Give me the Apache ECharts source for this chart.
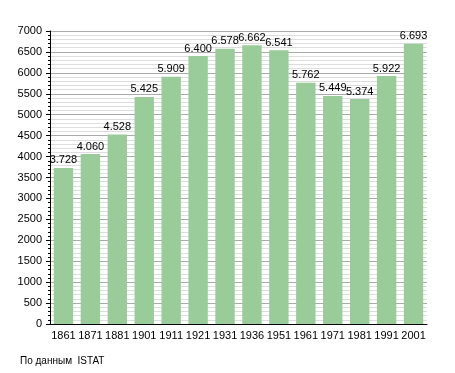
<!DOCTYPE html>
<html><head><meta charset="utf-8">
<script src="https://cdn.jsdelivr.net/npm/echarts@6/dist/echarts.min.js"></script>
<style>html,body{margin:0;padding:0;background:#fff}#c{width:455px;height:373px}</style>
</head><body><div id="c"></div>
<script>
const years = ["1861","1871","1881","1901","1911","1921","1931","1936","1951","1961","1971","1981","1991","2001"];
const population = [3728,4060,4528,5425,5909,6400,6578,6662,6541,5762,5449,5374,5922,6693];
const yMin = 0, yMax = 7000, yStep = 500;
const sourceText = "По данным  ISTAT";

const chart = echarts.init(document.getElementById('c'), null, {renderer:'canvas'});
const font = "'Liberation Sans', Arial, sans-serif";
chart.setOption({
  animation:false,
  backgroundColor:'#fff',
  grid:{left:50,right:28,top:31,bottom:49},
  xAxis:{type:'category',data:years,
    axisLine:{lineStyle:{color:'#000',width:1}},
    axisTick:{show:false},
    axisLabel:{color:'#000',fontSize:11,fontFamily:font,margin:6,interval:0}},
  yAxis:{type:'value',min:yMin,max:yMax,interval:yStep,
    axisLine:{show:true,lineStyle:{color:'#000',width:1}},
    axisTick:{show:true,length:4,lineStyle:{color:'#000'}},
    minorTick:{show:true,splitNumber:5,length:2,lineStyle:{color:'#000'}},
    splitLine:{lineStyle:{color:'#aaa',width:1}},
    minorSplitLine:{show:true,lineStyle:{color:'#ddd',width:1}},
    axisLabel:{color:'#000',fontSize:11,fontFamily:font,margin:8,formatter:v=>String(v)}},
  series:[{type:'bar',data:population,barCategoryGap:'28%',
    itemStyle:{color:'#99cc99'},
    label:{show:true,position:'top',distance:2,color:'#000',fontSize:11,fontFamily:font,
      formatter:p=>{const v=p.value;return Math.floor(v/1000)+'.'+String(v%1000).padStart(3,'0');}}}],
  graphic:[{type:'text',left:20,top:356,style:{text:sourceText,fill:'#000',font:'10px '+font}}]
});
</script></body></html>
